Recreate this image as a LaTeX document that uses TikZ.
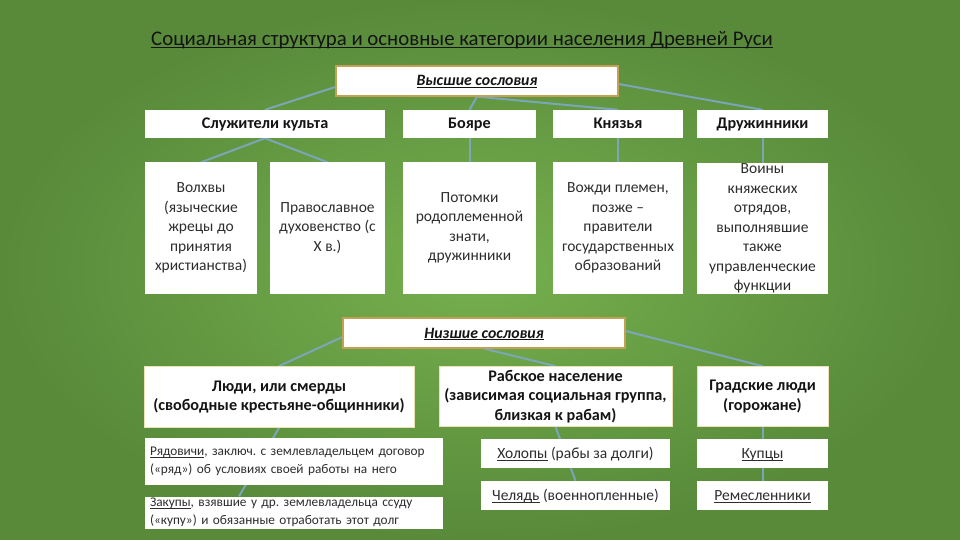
\documentclass[tikz,border=0pt]{standalone}
\usepackage{fontspec}
\setmainfont{Carlito}
\newcommand{\myul}[1]{\leavevmode\setbox0\hbox{#1}\rlap{\rule[-0.13em]{\wd0}{0.065em}}\box0\relax}
\usetikzlibrary{calc}
\pgfdeclarelayer{bg}
\pgfdeclarelayer{lines}
\pgfsetlayers{bg,lines,main}
\definecolor{bgin}{RGB}{118,176,78}
\definecolor{bgout}{RGB}{88,138,58}
\definecolor{connc}{RGB}{125,168,198}
\definecolor{hdr}{RGB}{196,160,84}
\definecolor{edge}{RGB}{236,226,180}
\definecolor{txt}{RGB}{45,45,45}
\definecolor{dark}{RGB}{20,20,20}
\frenchspacing
\begin{document}
\begin{tikzpicture}[x=1pt,y=-1pt,
  box/.style={fill=white, draw=none, inner sep=0pt, align=center, text=txt,
    font=\fontsize{15.5}{19.5}\selectfont},
  one/.style={align=none, text height=12pt, text depth=2pt},
  hbox/.style={box, one, draw=hdr, line width=1.3pt, text=dark,
    font=\fontsize{15.8}{18}\selectfont\bfseries\itshape},
  cat/.style={box, text=dark, font=\fontsize{16.2}{19.5}\selectfont\bfseries},
  lbox/.style={cat, draw=edge, line width=0.8pt},
  sbox/.style={box, align=left, inner xsep=5pt, text width=288pt,
    font=\fontsize{13.3}{17.5}\selectfont},
  conn/.style={draw=connc, line width=2pt, opacity=0.9},
  wh/.style n args={2}{minimum width=#1pt, minimum height=#2pt}
]
\useasboundingbox (0,0) rectangle (960,540);
\begin{pgfonlayer}{bg}
  \shade[inner color=bgin, outer color=bgout] (0,0) rectangle (960,540);
\end{pgfonlayer}

% title
\node[anchor=west, inner sep=0pt, text=dark, font=\fontsize{20.8}{24}\selectfont] (title) at (151,40)
  {\myul{Социальная структура и основные категории населения Древней Руси}};

% upper part
\node[hbox, wh={282}{30}] (top) at (477,81) {\myul{Высшие сословия}};

\node[cat, one, wh={240}{28}] (sluz) at (265,124) {Служители культа};
\node[cat, one, wh={133}{28}] (boyare) at (469.5,124) {Бояре};
\node[cat, one, wh={130}{28}] (knyaz) at (618,124) {Князья};
\node[cat, one, wh={131}{28}] (druzh) at (762.5,124) {Дружинники};

\node[box, wh={112}{131}] (volhvy) at (201,228) {Волхвы\\(языческие\\жрецы до\\принятия\\христианства)};
\node[box, wh={115}{131}] (pravosl) at (327.5,228) {Православное\\духовенство (с\\X в.)};
\node[box, wh={133}{131}] (potomki) at (469.5,228) {Потомки\\родоплеменной\\знати,\\дружинники};
\node[box, wh={130}{131}] (vozhdi) at (618,228) {Вожди племен,\\позже –\\правители\\государственных\\образований};
\node[box, wh={131}{131}] (voiny) at (762.5,228.5) {Воины\\княжеских\\отрядов,\\выполнявшие\\также\\управленческие\\функции};

% lower part
\node[hbox, wh={282}{30}, font=\fontsize{15.8}{18}\selectfont\bfseries\itshape] (nizh) at (484,333) {\myul{Низшие сословия}};

\node[lbox, wh={270}{61}] (lyudi) at (279,397) {Люди, или смерды\\(свободные крестьяне-общинники)};
\node[lbox, wh={233}{60}] (rab) at (555.5,396.5) {Рабское население\\(зависимая социальная группа,\\близкая к рабам)};
\node[lbox, wh={131}{60}] (grad) at (762.5,396.5) {Градские люди\\(горожане)};

\node[sbox, minimum height=47pt] (ryad) at (294,461.5)
  {\myul{Рядовичи}, заключ. с землевладельцем договор\\(«ряд») об условиях  своей работы на него};
\node[sbox, minimum height=32pt] (zakup) at (294,512.5)
  {\myul{Закупы}, взявшие у др. землевладельца ссуду\\(«купу») и обязанные отработать этот долг};

\node[box, one, wh={189}{29}] (holop) at (575.5,453.5) {\myul{Холопы} (рабы за долги)};
\node[box, one, wh={189}{29}] (chel) at (575.5,495.5) {\myul{Челядь} (военнопленные)};
\node[box, one, wh={131}{29}] (kupcy) at (762.5,453.5) {\myul{Купцы}};
\node[box, one, wh={131}{29}] (remes) at (762.5,495.5) {\myul{Ремесленники}};

% connectors
\begin{pgfonlayer}{lines}
  \draw[conn] ($(top.west)+(0,6)$) -- (sluz.north);
  \draw[conn] (top.south) -- (boyare.north);
  \draw[conn] (top.south) -- (knyaz.north);
  \draw[conn] ($(top.east)+(0,3)$) -- (druzh.north);
  \draw[conn] (sluz.south) -- (volhvy.north);
  \draw[conn] (sluz.south) -- (pravosl.north);
  \draw[conn] (boyare.south) -- (potomki.north);
  \draw[conn] (knyaz.south) -- (vozhdi.north);
  \draw[conn] (druzh.south) -- (voiny.north);
  \draw[conn] ($(nizh.west)+(0,4)$) -- (lyudi.north);
  \draw[conn] (nizh.south) -- (rab.north);
  \draw[conn] ($(nizh.east)+(0,-2)$) -- (grad.north);
  \draw[conn] (lyudi.south) -- ($(zakup.north)+(-55,0)$);
  \draw[conn] (rab.south) -- (chel.north);
  \draw[conn] (grad.south) -- (remes.north);
\end{pgfonlayer}
\end{tikzpicture}
\end{document}
